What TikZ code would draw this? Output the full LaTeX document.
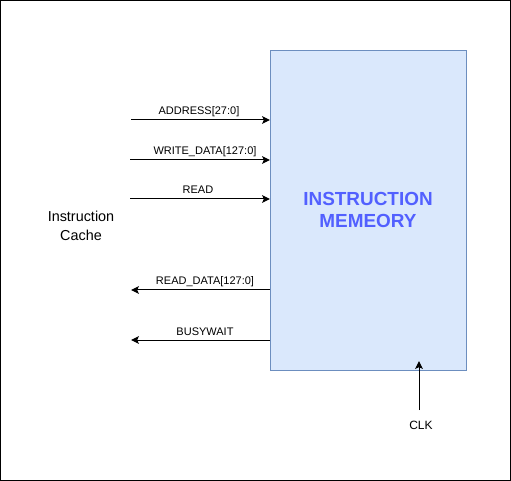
\documentclass[tikz,border=0pt]{standalone}
\usepackage{fontspec}
\setmainfont{Liberation Sans}
\usetikzlibrary{arrows.meta}
\definecolor{memfill}{HTML}{DAE8FC}
\definecolor{memdraw}{HTML}{6C8EBF}
\definecolor{memtext}{HTML}{5260FF}
\begin{document}
\begin{tikzpicture}[x=0.75pt,y=-0.75pt,
  sig/.style={draw=black,line width=0.75pt,-{Stealth[length=6pt,width=5.8pt,inset=1.4pt]}},
  lbl/.style={font=\fontsize{8.25pt}{9.5pt}\selectfont,inner sep=0pt,anchor=base},
  plain/.style={inner sep=0pt,align=center}]
\useasboundingbox (0,0) rectangle (511,481);
\draw[line width=0.9pt] (0.5,0.5) rectangle (510.5,480.5);
\node[draw=memdraw,fill=memfill,line width=0.75pt,minimum width=196*0.75pt,minimum height=320*0.75pt,inner sep=0pt,anchor=north west] (mem) at (270,50) {};
\node[plain,text=memtext,font=\fontsize{14.2pt}{17pt}\selectfont\bfseries] (memt) at (368,210) {INSTRUCTION\\MEMEORY};
\node[plain,font=\fontsize{10.8pt}{14pt}\selectfont] (cache) at (81,226) {Instruction\\Cache};
% coordinates
\coordinate (a0) at (131,120); \coordinate (a1) at (270,120);
\coordinate (w0) at (130,160); \coordinate (w1) at (270,160);
\coordinate (r0) at (130,199); \coordinate (r1) at (270,199);
\coordinate (d0) at (270,290); \coordinate (d1) at (131,290);
\coordinate (b0) at (270,340); \coordinate (b1) at (131,340);
\coordinate (c0) at (419,410); \coordinate (c1) at (419,361);
\draw[sig] (a0) -- (a1);
\draw[sig] (w0) -- (w1);
\draw[sig] (r0) -- (r1);
\draw[sig] (d0) -- (d1);
\draw[sig] (b0) -- (b1);
\draw[sig] (c0) -- (c1);
\node[lbl] (la) at (199,115) {ADDRESS[27:0]};
\node[lbl] (lw) at (205,155) {WRITE\_DATA[127:0]};
\node[lbl] (lr) at (198,193.5) {READ};
\node[lbl] (ld) at (205,285) {READ\_DATA[127:0]};
\node[lbl] (lb) at (205,335) {BUSYWAIT};
\node[plain,font=\fontsize{9pt}{11pt}\selectfont] (clk) at (421,425) {CLK};
\end{tikzpicture}
\end{document}
